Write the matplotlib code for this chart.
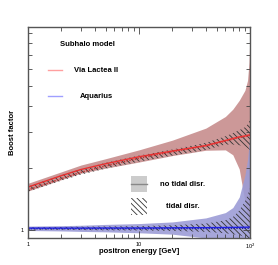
import numpy as np
import matplotlib
matplotlib.use("Agg")
import matplotlib.pyplot as plt
from matplotlib.patches import Rectangle

plt.rcParams['font.family'] = ['Liberation Sans', 'DejaVu Sans']
plt.rcParams['hatch.linewidth'] = 0.6

# energies (GeV)
energy = [1, 2, 3, 5, 10, 20, 40, 60, 70, 80, 90, 95, 98, 100]

# Via Lactea II
vl_no_tidal_hi = [1.69, 1.92, 2.07, 2.22, 2.45, 2.73, 3.12, 3.55, 3.85, 4.25, 4.75, 5.3, 6.5, 9.0]
vl_no_tidal_lo = [1.55, 1.76, 1.89, 2.0, 2.14, 2.3, 2.44, 2.45, 2.32, 1.98, 1.38, 1.15, 1.02, 0.98]
vl_no_tidal = [1.62, 1.84, 1.97, 2.1, 2.27, 2.42, 2.57, 2.72, 2.78, 2.83, 2.86, 2.88, 2.89, 2.9]
vl_tidal = [1.57, 1.78, 1.91, 2.05, 2.23, 2.40, 2.56, 2.7, 2.76, 2.81, 2.84, 2.86, 2.87, 2.88]
vl_tidal_hi = [1.63, 1.85, 1.98, 2.12, 2.30, 2.46, 2.65, 2.85, 2.95, 3.05, 3.15, 3.25, 3.35, 3.45]
vl_tidal_lo = [1.54, 1.74, 1.86, 1.99, 2.15, 2.3, 2.45, 2.6, 2.6, 2.58, 2.55, 2.5, 2.47, 2.45]

# Aquarius
aq_no_tidal_hi = [1.05, 1.055, 1.06, 1.07, 1.08, 1.10, 1.15, 1.22, 1.29, 1.45, 1.85, 2.2, 2.6, 3.1]
aq_no_tidal_lo = [1.0, 0.995, 0.99, 0.985, 0.975, 0.96, 0.92, 0.89, 0.87, 0.85, 0.83, 0.82, 0.81, 0.8]
aq_no_tidal = [1.027, 1.027, 1.027, 1.028, 1.028, 1.03, 1.032, 1.034, 1.035, 1.036, 1.037, 1.038, 1.039, 1.04]
aq_tidal = [1.02, 1.02, 1.02, 1.02, 1.02, 1.021, 1.022, 1.023, 1.023, 1.024, 1.024, 1.025, 1.025, 1.025]
aq_tidal_hi = [1.035, 1.04, 1.043, 1.046, 1.05, 1.06, 1.08, 1.12, 1.16, 1.25, 1.38, 1.48, 1.55, 1.6]
aq_tidal_lo = [1.01, 1.008, 1.005, 1.002, 1.0, 0.995, 0.985, 0.97, 0.96, 0.95, 0.93, 0.92, 0.91, 0.9]

fig = plt.figure(figsize=(2.78, 2.65), dpi=100)
ax = fig.add_axes([28/278, 1-238/265, 222/278, 211/265])
ax.set_xscale('log')
ax.set_yscale('log')

red_band = '#cc9898'
blue_band = '#9c9cd6'

ax.fill_between(energy, vl_no_tidal_lo, vl_no_tidal_hi, color=red_band, lw=0)
ax.fill_between(energy, aq_no_tidal_lo, aq_no_tidal_hi, color=blue_band, lw=0, alpha=0.9)
ax.fill_between(energy, vl_tidal_lo, vl_tidal_hi, facecolor='none', edgecolor='#333333',
                hatch='\\\\\\\\\\\\', lw=0)
ax.fill_between(energy, aq_tidal_lo, aq_tidal_hi, facecolor='none', edgecolor='#333333',
                hatch='\\\\\\\\\\\\', lw=0)
ax.plot(energy, vl_tidal, color='#c03030', lw=1.0, ls=(0, (1, 1)))
ax.plot(energy, vl_no_tidal, color='#e83030', lw=1.0)
ax.plot(energy, aq_tidal, color='#202090', lw=1.0, ls=(0, (1, 1)))
ax.plot(energy, aq_no_tidal, color='#2020e0', lw=1.0)

ax.set_xlim(1, 100)
ax.set_ylim(0.92, 9.6)

ax.set_xticks([1, 10, 100])
ax.set_xticklabels(['1', '10', r'10$^{2}$'])
ax.set_yticks([1])
ax.set_yticklabels(['1'])
ax.yaxis.set_minor_formatter(matplotlib.ticker.NullFormatter())
ax.tick_params(which='both', direction='in', top=True, right=True, labelsize=4,
               color='#444444', pad=3)
ax.tick_params(which='major', length=5, width=0.6)
ax.tick_params(which='minor', length=3, width=0.6)
for s in ax.spines.values():
    s.set_color('#555555')
    s.set_linewidth(1.0)

ax.set_xlabel('positron energy [GeV]', fontsize=5.5, fontweight='bold')
ax.set_ylabel('Boost factor', fontsize=5.5, fontweight='bold')
ax.xaxis.set_label_coords(0.5, -0.048)
ax.yaxis.set_label_coords(-0.056, 0.5)

# legend drawn in axes-fraction coords
def fx(px):
    return (px - 28) / 222

def fy(py):
    return (238 - py) / 211

tr = ax.transAxes
ax.text(fx(87), fy(45), 'Subhalo model', transform=tr, fontsize=5.5, fontweight='bold',
        ha='center', va='center')
ax.plot([fx(48), fx(62)], [fy(70), fy(70)], transform=tr, color='#ff9f9f', lw=1.0)
ax.text(fx(96), fy(71), 'Via Lactea II', transform=tr, fontsize=5.5, fontweight='bold',
        ha='center', va='center')
ax.plot([fx(48), fx(62)], [fy(96), fy(96)], transform=tr, color='#9f9fff', lw=1.0)
ax.text(fx(96), fy(96), 'Aquarius', transform=tr, fontsize=5.5, fontweight='bold',
        ha='center', va='center')

ax.add_patch(Rectangle((fx(131), fy(192)), fx(147) - fx(131), fy(176) - fy(192),
                       transform=tr, facecolor='#cccccc', edgecolor='none'))
ax.plot([fx(131), fx(147)], [fy(184), fy(184)], transform=tr, color='#888888', lw=1.0)
ax.text(fx(183), fy(184), 'no tidal disr.', transform=tr, fontsize=5.5, fontweight='bold',
        ha='center', va='center')
ax.add_patch(Rectangle((fx(131), fy(215)), fx(147) - fx(131), fy(198) - fy(215),
                       transform=tr, facecolor='none', edgecolor='#333333',
                       hatch='\\\\\\\\\\\\', lw=0))
ax.text(fx(183), fy(207), 'tidal disr.', transform=tr, fontsize=5.5, fontweight='bold',
        ha='center', va='center')

fig.savefig('out.png', dpi=100)
